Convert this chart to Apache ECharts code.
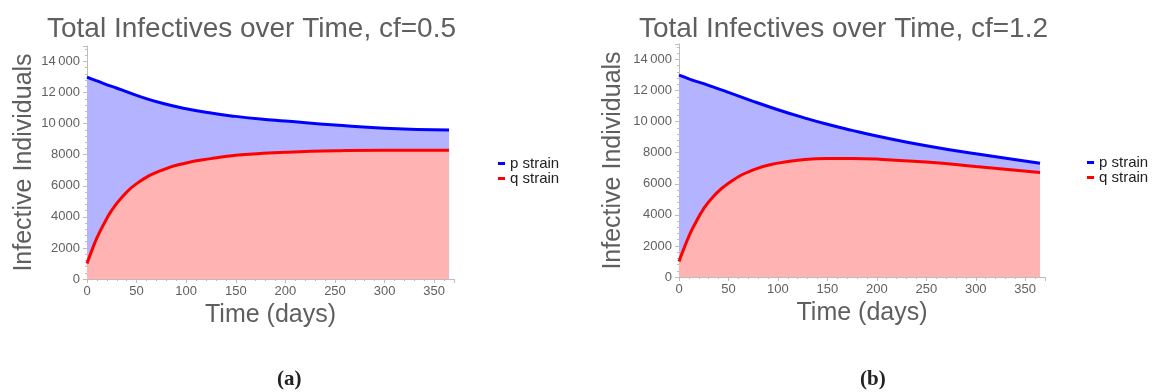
<!DOCTYPE html>
<html>
<head>
<meta charset="utf-8">
<script src="https://cdn.jsdelivr.net/npm/echarts@6/dist/echarts.min.js"></script>
<style>
  html, body { margin: 0; padding: 0; background: #fff; }
  #container { width: 1153px; height: 392px; }
</style>
</head>
<body>
<div id="container"></div>
<script>
// time points (days)
var days = [0, 5, 10, 15, 25, 35, 50, 75, 100, 125, 150, 175, 200, 250, 300, 365];

// (a) cf=0.5
var pStrainA = [13000, 12870, 12750, 12630, 12400, 12180, 11820, 11330, 10960, 10680, 10470, 10300, 10170, 9910, 9700, 9590];
var qStrainA = [1000, 1860, 2650, 3300, 4430, 5250, 6140, 7000, 7470, 7750, 7960, 8080, 8160, 8250, 8290, 8290];

// (b) cf=1.2
var pStrainB = [13000, 12880, 12760, 12640, 12450, 12220, 11890, 11310, 10770, 10280, 9830, 9440, 9080, 8450, 7930, 7330];
var qStrainB = [1000, 1840, 2620, 3280, 4400, 5200, 6040, 6900, 7330, 7550, 7630, 7630, 7590, 7400, 7120, 6730];

var titles = ["Total Infectives over Time, cf=0.5", "Total Infectives over Time, cf=1.2"];
var panelLabels = ["(a)", "(b)"];

function pairs(xs, ys) {
  return xs.map(function (x, i) {
    return [x, ys[i]];
  });
}

function yFmt(v) {
  if (v >= 10000) {
    var s = String(v);
    return s.slice(0, s.length - 3) + "\u2009" + s.slice(-3);
  }
  return String(v);
}

var grey = "#bdbdbd";
var textGrey = "#5f5f5f";

function xAxisFor(idx) {
  return {
    gridIndex: idx,
    type: "value",
    min: 0,
    max: 370,
    interval: 50,
    name: "Time (days)",
    nameLocation: "middle",
    nameGap: 19,
    nameTextStyle: { fontSize: 25, color: textGrey, fontFamily: "Liberation Sans" },
    axisLine: { show: true, lineStyle: { color: grey } },
    axisTick: { show: true, length: 4, lineStyle: { color: grey } },
    minorTick: { show: true, splitNumber: 5, length: 2, lineStyle: { color: grey } },
    splitLine: { show: false },
    axisLabel: {
      fontSize: 13,
      color: textGrey,
      margin: 6,
      showMaxLabel: false,
      fontFamily: "Liberation Sans",
    },
  };
}

function yAxisFor(idx, gap) {
  return {
    gridIndex: idx,
    type: "value",
    min: 0,
    max: 15000,
    interval: 2000,
    name: "Infective Individuals",
    nameLocation: "middle",
    nameGap: gap,
    nameTextStyle: { fontSize: 25, color: textGrey, fontFamily: "Liberation Sans" },
    axisLine: { show: true, lineStyle: { color: grey } },
    axisTick: { show: true, length: 4, lineStyle: { color: grey } },
    minorTick: { show: true, splitNumber: 5, length: 2, lineStyle: { color: grey } },
    splitLine: { show: false },
    axisLabel: {
      fontSize: 13,
      color: textGrey,
      margin: 7,
      showMaxLabel: false,
      formatter: yFmt,
      fontFamily: "Liberation Sans",
    },
  };
}

function areaSeries(name, idx, data, line, fill, z) {
  return {
    name: name,
    type: "line",
    xAxisIndex: idx,
    yAxisIndex: idx,
    data: data,
    smooth: 0.5,
    showSymbol: false,
    symbol: "none",
    z: z,
    lineStyle: { color: line, width: 3 },
    itemStyle: { color: line },
    areaStyle: { color: fill, opacity: 1 },
  };
}

var dom = document.getElementById("container");
var myChart = echarts.init(dom, null, { renderer: "canvas" });

var option = {
  animation: false,
  backgroundColor: "#ffffff",
  title: [
    { text: titles[0], left: 42, top: 10, textStyle: { fontSize: 28, fontWeight: "normal", color: textGrey, fontFamily: "Liberation Sans" } },
    { text: titles[1], left: 634, top: 10, textStyle: { fontSize: 28, fontWeight: "normal", color: textGrey, fontFamily: "Liberation Sans" } },
    { text: panelLabels[0], left: 272, top: 364, textStyle: { fontSize: 21, fontWeight: "bold", color: "#222", fontFamily: "Liberation Serif" } },
    { text: panelLabels[1], left: 855, top: 364, textStyle: { fontSize: 21, fontWeight: "bold", color: "#222", fontFamily: "Liberation Serif" } },
  ],
  legend: [
    {
      orient: "vertical",
      left: 493,
      top: 151,
      itemWidth: 7,
      itemHeight: 3,
      itemGap: 0,
      icon: "rect",
      data: ["p strain", "q strain"],
      textStyle: { fontSize: 15, color: "#222", fontFamily: "Liberation Sans" },
    },
    {
      orient: "vertical",
      left: 1082,
      top: 150,
      itemWidth: 7,
      itemHeight: 3,
      itemGap: 0,
      icon: "rect",
      data: ["p strain", "q strain"],
      textStyle: { fontSize: 15, color: "#222", fontFamily: "Liberation Sans" },
    },
  ],
  grid: [
    { left: 87, top: 46, width: 367, height: 233 },
    { left: 679, top: 44, width: 366, height: 233 },
  ],
  xAxis: [xAxisFor(0), xAxisFor(1)],
  yAxis: [yAxisFor(0, 50), yAxisFor(1, 53)],
  series: [
    areaSeries("p strain", 0, pairs(days, pStrainA), "#0000ff", "#b3b3ff", 2),
    areaSeries("q strain", 0, pairs(days, qStrainA), "#ff0000", "#ffb3b3", 3),
    areaSeries("p strain", 1, pairs(days, pStrainB), "#0000ff", "#b3b3ff", 2),
    areaSeries("q strain", 1, pairs(days, qStrainB), "#ff0000", "#ffb3b3", 3),
  ],
};

myChart.setOption(option);
window.addEventListener("resize", myChart.resize);
</script>
</body>
</html>
